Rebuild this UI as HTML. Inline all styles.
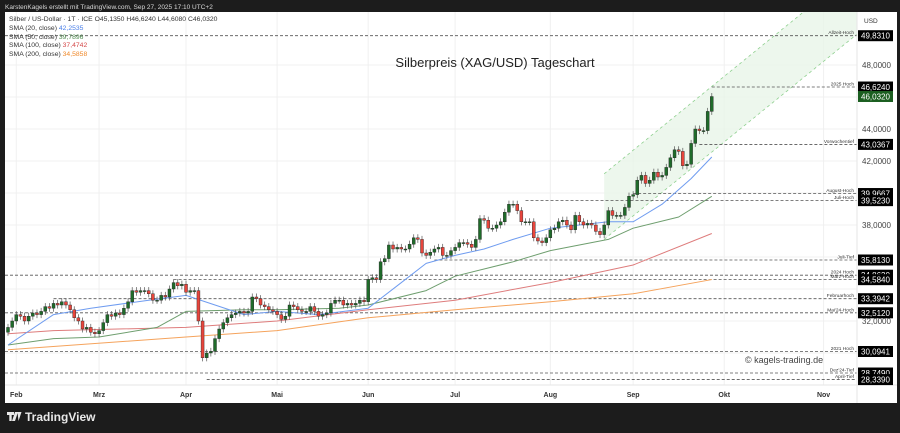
<!DOCTYPE html>
<html><head><meta charset="utf-8">
<style>
html,body{margin:0;padding:0;background:#1c1c1c;}
svg{display:block;font-family:"Liberation Sans",sans-serif;}
</style></head>
<body>
<svg id="chart" width="900" height="433" viewBox="0 0 900 433" xmlns="http://www.w3.org/2000/svg">
  <rect x="0" y="0" width="900" height="433" fill="#1c1c1c"/>
  <text x="5" y="9" font-size="6.5" fill="#d8d8d8">KarstenKagels erstellt mit TradingView.com, Sep 27, 2025 17:10 UTC+2</text>
  <rect x="5" y="12" width="892" height="391" fill="#ffffff"/>
  <g id="grid"></g>
  <g id="channel"></g>
  <g id="levels"></g>
  <g id="smas"></g>
  <g id="candles"></g>
  <line x1="857" y1="12" x2="857" y2="403" stroke="#e6e6e6" stroke-width="1"/>
  <line x1="5" y1="385" x2="897" y2="385" stroke="#e6e6e6" stroke-width="1"/>
  <g id="yaxis"></g>
  <g id="xaxis"></g>
  <g id="tags"></g>
  <text x="864" y="23" font-size="6.5" fill="#333">USD</text>
  <text x="495" y="67" font-size="13" fill="#222" text-anchor="middle">Silberpreis (XAG/USD) Tageschart</text>
  <text x="745" y="363" font-size="9" fill="#444">© kagels-trading.de</text>
  <g>
    <text x="9" y="21" font-size="6.8" fill="#333">Silber / US-Dollar · 1T · ICE  O45,1350  H46,6240  L44,6080  C46,0320</text>
    <text x="9" y="30" font-size="6.8" fill="#333">SMA (20, close) <tspan fill="#4a7fe8">42,2535</tspan></text>
    <text x="9" y="39" font-size="6.8" fill="#333">SMA (50, close) <tspan fill="#4e8a4e">39,7896</tspan></text>
    <text x="9" y="47" font-size="6.8" fill="#333">SMA (100, close) <tspan fill="#d44848">37,4742</tspan></text>
    <text x="9" y="56" font-size="6.8" fill="#333">SMA (200, close) <tspan fill="#f08a2c">34,5858</tspan></text>
  </g>
  <g>
    <path d="M7 412h7v3h-2.3v6h-2.4v-6H7z M15 412h3l-3 9h-3z M17.5 412h4l-3 9" fill="#e8e8e8"/>
    <text x="25" y="421" font-size="12" font-weight="bold" fill="#e8e8e8">TradingView</text>
  </g>
</svg>
<script>
const closes = [31.6,32.0,32.4,32.3,32.0,32.3,32.5,32.4,32.6,32.9,32.8,33.1,33.0,33.2,33.0,32.7,32.2,32.0,31.5,31.6,31.3,31.2,31.4,31.9,32.4,32.3,32.5,32.4,32.8,33.2,33.9,33.8,33.9,33.9,33.7,33.3,33.3,33.6,33.5,34.0,34.4,34.2,34.3,33.8,33.9,33.9,32.0,29.7,30.0,30.1,30.9,31.5,31.9,32.2,32.4,32.5,32.6,32.5,32.6,33.5,33.4,33.0,32.9,32.7,32.6,32.4,32.1,32.3,33.0,32.9,32.7,32.6,32.6,32.9,32.6,32.3,32.4,32.5,33.1,33.3,33.3,33.0,33.1,33.0,33.1,33.3,33.2,
34.6,34.7,34.6,35.7,35.9,36.75,36.5,36.6,36.5,36.5,36.8,37.2,37.1,36.25,36.1,36.3,36.5,36.6,36.1,36.1,36.4,36.6,36.9,36.9,36.8,36.6,37.1,38.4,38.3,37.8,37.8,38.0,38.2,38.8,39.3,39.3,38.9,38.2,38.2,38.2,37.2,37.0,36.9,37.2,37.7,37.8,38.2,38.3,38.0,37.7,38.6,38.2,38.0,38.1,38.0,37.6,37.4,38.0,38.9,38.6,38.6,38.6,39.1,39.8,39.9,40.8,41.1,40.6,40.8,41.3,41.0,41.1,41.6,42.2,42.7,42.6,41.7,41.8,43.1,44.0,43.9,43.9,45.1,46.03];
const firstOpen = 31.3;
const sma20Idx = [0,11,20,34,43,50,57,65,75,87,94,101,108,115,122,131,138,145,151,158,165,170];
const sma20Val = [30.5,32.4,32.8,33.3,33.6,33.0,32.4,32.6,32.4,32.8,34.2,35.6,36.1,36.5,37.1,37.8,38.0,38.2,38.2,39.3,40.9,42.25];
const sma50Idx = [0,11,22,36,43,57,65,80,87,101,108,122,131,145,151,162,170];
const sma50Val = [30.5,30.9,31.0,31.6,32.6,32.7,32.7,32.8,33.0,33.9,34.8,35.7,36.4,37.1,37.8,38.5,39.79];
const sma100Idx = [0,11,43,65,87,108,131,151,170];
const sma100Val = [31.2,31.4,31.6,32.0,32.7,33.3,34.4,35.5,37.47];
const sma200Idx = [0,43,65,87,108,131,151,170];
const sma200Val = [30.2,31.0,31.4,32.2,32.7,33.2,33.7,34.59];
const yTicks = [48,46,44,42,40,38,36,34,32,30];
const yLabelTicks = [48,44,42,38,32];
const monthLabels = ["Feb","Mrz","Apr","Mai","Jun","Jul","Aug","Sep","Okt","Nov"];
const monthIdx = [2,22,43,65,87,108,131,151,173,197];
const levelVals = [49.831,46.624,43.0367,39.9667,39.523,35.813,34.863,34.584,33.3942,32.512,30.0941,28.749,28.339];
const levelNames = ["Allzeit-Hoch","2025 Hoch","Vorwochentief","August-Hoch","Juli-Hoch","Juli-Tief","2024 Hoch","März-Hoch","Februarhoch","Mai'24-Hoch","2021 Hoch","Dez'24-Tief","April-Tief"];
const levelStartIdx = [-2,170,167,151,125,103,-2,40,11,-2,-2,-2,48];
const lastPrice = 46.032;
const channelStartIdx = 144;
const channelTop = 41.2;
const channelBottom = 37.1;
const channelSlopePerBar = 0.21;

const NS = "http://www.w3.org/2000/svg";
const xS = i => 8 + i * 4.14;
const yS = v => 65 + (48 - v) * 16;
function mk(tag, attrs, parent){ const e=document.createElementNS(NS,tag); for(const k in attrs) e.setAttribute(k,attrs[k]); parent.appendChild(e); return e; }

const grid = document.getElementById('grid');
yTicks.forEach(v=>{
  const l = mk('line',{x1:5,x2:857,y1:yS(v),y2:yS(v),stroke:'#f0f0f0','stroke-width':1},grid);
  
  
});
monthIdx.forEach(i=>{
  const l = mk('line',{x1:xS(i),x2:xS(i),y1:12,y2:385,stroke:'#f0f0f0','stroke-width':1},grid);
  
  
});

const ch = document.getElementById('channel');
const cx0 = xS(channelStartIdx), cx1 = 857;
const bars = (cx1-cx0)/4.14;
const t0 = yS(channelTop), b0 = yS(channelBottom);
const t1 = yS(channelTop + channelSlopePerBar*bars), b1 = yS(channelBottom + channelSlopePerBar*bars);
const clip = mk('clipPath',{id:'clipc'},ch);
mk('rect',{x:5,y:12,width:852,height:373},clip);
const poly = mk('polygon',{points:`${cx0},${t0} ${cx1},${t1} ${cx1},${b1} ${cx0},${b0}`,fill:'#e8f5e9','fill-opacity':0.8,'clip-path':'url(#clipc)'},ch);


[[t0,t1],[b0,b1]].forEach(p=>{
  const l = mk('line',{x1:cx0,y1:p[0],x2:cx1,y2:p[1],stroke:'#8fd08f','stroke-dasharray':'3,3','stroke-width':0.8,'clip-path':'url(#clipc)'},ch);
  
  
});

const lv = document.getElementById('levels');
const tags = document.getElementById('tags');
levelVals.forEach((v,k)=>{
  const y = yS(v);
  const x0 = Math.max(5, xS(levelStartIdx[k]));
  const l = mk('line',{x1:x0,x2:857,y1:y,y2:y,stroke:'#555','stroke-dasharray':'3,2','stroke-width':0.8},lv);
  
  
  const t = mk('text',{x:854,y:y-1.5,'font-size':4.8,fill:'#333','text-anchor':'end'},lv);
  t.textContent = levelNames[k];
  
  
});

const sm = document.getElementById('smas');
[[sma200Idx,sma200Val,'#f5a35c','sma-200-line'],[sma100Idx,sma100Val,'#de7c7c','sma-100-line'],[sma50Idx,sma50Val,'#6e9e6e','sma-50-line'],[sma20Idx,sma20Val,'#6f9cf0','sma-20-line']].forEach(s=>{
  const pts = s[0].map((i,k)=>xS(i)+','+yS(s[1][k])).join(' ');
  const p = mk('polyline',{points:pts,fill:'none',stroke:s[2],'stroke-width':1,'stroke-linejoin':'round'},sm);
  
  
});

const cg = document.getElementById('candles');
closes.forEach((c,i)=>{
  const o = i===0 ? firstOpen : closes[i-1];
  const hi = Math.max(o,c)+0.22, lo = Math.min(o,c)-0.22;
  const x = xS(i);
  const up = c>=o;
  const w = mk('line',{x1:x,x2:x,y1:yS(hi),y2:yS(lo),stroke:'#555','stroke-width':0.7},cg);
  
  
  const top = yS(Math.max(o,c)), h = Math.max(1, yS(Math.min(o,c))-top);
  const r = mk('rect',{x:x-1.5,y:top,width:3,height:h,fill:up?'#1f6b2a':'#e8453c',stroke:'#222','stroke-width':0.4},cg);
  
  
});

const ya = document.getElementById('yaxis');
yLabelTicks.forEach(v=>{
  const t = mk('text',{x:862,y:yS(v)+3,'font-size':8,fill:'#444'},ya);
  t.textContent = v.toFixed(4).replace('.',',');
  
  
});
const xa = document.getElementById('xaxis');
monthLabels.forEach((m,k)=>{
  const t = mk('text',{x:xS(monthIdx[k]),y:397,'font-size':7,'font-weight':'bold',fill:'#333','text-anchor':'middle'},xa);
  t.textContent = m;
  
  
});
function tag(v,color,name){
  const y = yS(v);
  const r = mk('rect',{x:858,y:y-5.5,width:35,height:11,fill:color},tags);
  
  
  const t = mk('text',{x:861,y:y+3,'font-size':8,fill:'#fff'},tags);
  t.textContent = v.toFixed(4).replace('.',',');
  
  
}
levelVals.forEach(v=>tag(v,'#000','level-price-tag'));
tag(lastPrice,'#1b5e20','last-price-tag');
</script>
</body></html>
